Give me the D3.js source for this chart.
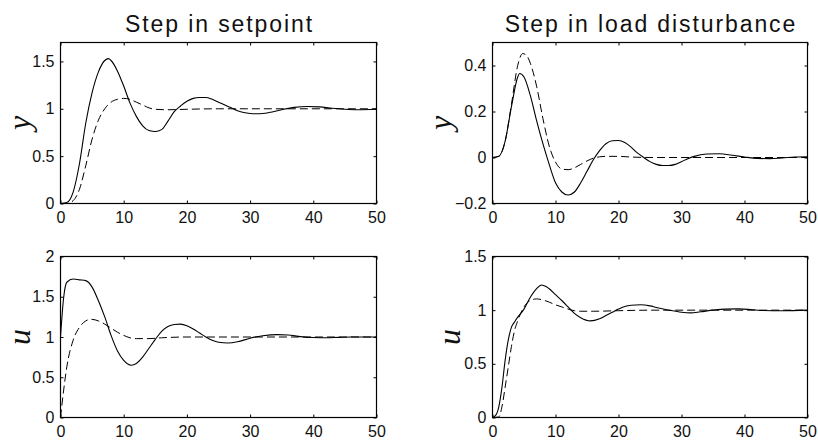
<!DOCTYPE html>
<html>
<head>
<meta charset="utf-8">
<script src="https://cdn.jsdelivr.net/npm/d3@7"></script>
<style>
  body { margin: 0; background: #fff; }
  text { font-family: "Liberation Sans", Arial, sans-serif; fill: #111; }
</style>
</head>
<body>
<div id="chart"></div>
<script>
// time axis ticks
var xTicks = [0, 10, 20, 30, 40, 50];

// step in setpoint, output y
var tSpYSolid = [0,1,2,3,4,5,6,7,7.6,8,9,10,11,12,13,14,15,16,17,18,19,20,21,22,23,24,25,26,27,28,29,30,31,32,33,35,37,39,41,43,45,47,50];
var spYSolid  = [0,0.01,0.12,0.42,0.85,1.17,1.39,1.51,1.53,1.51,1.40,1.24,1.06,0.92,0.82,0.77,0.76,0.78,0.87,0.97,1.03,1.08,1.11,1.12,1.12,1.10,1.07,1.04,1.01,0.98,0.96,0.95,0.947,0.95,0.96,0.99,1.015,1.025,1.02,1.005,0.995,0.99,0.995];
var tSpYDash  = [0,1,2,3,4,5,6,7,8,9,10,11,12,13,14,15,17,20,25,50];
var spYDash   = [0,0,0.03,0.15,0.40,0.68,0.88,1.00,1.07,1.10,1.11,1.10,1.07,1.04,1.01,0.995,0.99,0.995,1,1];

// step in load disturbance, output y
var tLdYSolid = [0,1,2,3,4,4.3,5,6,7,8,9,10,11,12,13,14,15,16,17,18,19,20,21,22,23,24,25,26,27,28,29,30,31,32,34,36,38,40,42,44,46,48,50];
var ldYSolid  = [0,0.005,0.07,0.22,0.35,0.365,0.35,0.27,0.16,0.06,-0.03,-0.11,-0.15,-0.163,-0.15,-0.11,-0.06,-0.01,0.03,0.06,0.073,0.074,0.065,0.045,0.02,0,-0.018,-0.03,-0.035,-0.035,-0.03,-0.018,-0.005,0.005,0.015,0.016,0.01,0.002,-0.004,-0.005,-0.002,0.002,0.003];
var tLdYDash  = [0,1,2,3,4,4.8,5.5,6,7,8,9,10,11,12,13,14,15,16,17,18,20,22,25,50];
var ldYDash   = [0,0.005,0.07,0.23,0.40,0.452,0.44,0.41,0.31,0.17,0.05,-0.02,-0.05,-0.053,-0.045,-0.03,-0.015,-0.003,0.003,0.005,0.005,0.002,0,0];

// step in setpoint, control u
var tSpUSolid = [0,0.5,1,2,3,4,5,6,7,8,9,10,11.2,12,13,14,15,16,17,18,19,20,21,22,23,24,25,26.5,28,30,32,34.3,36,38,40,42,44,46,50];
var spUSolid  = [1.0,1.49,1.68,1.72,1.71,1.70,1.62,1.45,1.25,1.02,0.83,0.71,0.65,0.67,0.75,0.86,0.97,1.07,1.13,1.155,1.16,1.14,1.10,1.05,1.0,0.96,0.935,0.925,0.94,0.985,1.015,1.03,1.025,1.005,0.993,0.99,0.995,1.0,1.0];
var tSpUDash  = [0,0.5,1,2,3,4,4.8,6,7,8,9,10,11,12,14,16,20,50];
var spUDash   = [0,0.34,0.63,0.96,1.12,1.20,1.22,1.20,1.16,1.11,1.06,1.02,0.99,0.98,0.98,0.99,1.0,1.0];

// step in load disturbance, control u
var tLdUSolid = [0,0.5,1,1.5,2,2.5,3,3.5,4,5,6,7,7.8,8.5,9,10,11,12,13,14,15.5,17,18,19,20,21,22,23.5,25,26,28,30,31.5,33,35,37,39,41,43,46,50];
var ldUSolid  = [0,0.02,0.10,0.28,0.53,0.72,0.84,0.89,0.935,1.01,1.12,1.20,1.235,1.22,1.20,1.145,1.09,1.03,0.97,0.93,0.90,0.92,0.95,0.98,1.01,1.035,1.046,1.05,1.04,1.025,1.0,0.98,0.975,0.985,1.0,1.01,1.012,1.006,0.997,0.995,1.0];
var tLdUDash  = [0,1,1.5,2,2.5,3,3.5,4,5,6,7,8,9,10,11,12,13,14,16,20,25,50];
var ldUDash   = [0,0.005,0.10,0.28,0.47,0.66,0.81,0.90,1.03,1.09,1.105,1.095,1.075,1.05,1.03,1.01,0.995,0.99,0.99,0.995,1.0,1.0];

// y ticks and labels
var spYTicks = [0, 0.5, 1, 1.5],      spYLabels = ["0", "0.5", "1", "1.5"];
var ldYTicks = [-0.2, 0, 0.2, 0.4],   ldYLabels = ["\u22120.2", "0", "0.2", "0.4"];
var spUTicks = [0, 0.5, 1, 1.5, 2],   spULabels = ["0", "0.5", "1", "1.5", "2"];
var ldUTicks = [0, 0.5, 1, 1.5],      ldULabels = ["0", "0.5", "1", "1.5"];

var titles = ["Step in setpoint", "Step in load disturbance"];

var width = 818, height = 441;

var svg = d3.select("#chart")
    .append("svg")
    .attr("width", width)
    .attr("height", height);

var panels = [
  { box: [60, 376, 42, 203],  ydom: [0, 1.7],    ticks: spYTicks, labels: spYLabels, lab: "y",
    solid: [tSpYSolid, spYSolid], dash: [tSpYDash, spYDash], title: titles[0] },
  { box: [492, 807, 42, 203], ydom: [-0.2, 0.5], ticks: ldYTicks, labels: ldYLabels, lab: "y",
    solid: [tLdYSolid, ldYSolid], dash: [tLdYDash, ldYDash], title: titles[1] },
  { box: [60, 376, 256, 417], ydom: [0, 2],      ticks: spUTicks, labels: spULabels, lab: "u",
    solid: [tSpUSolid, spUSolid], dash: [tSpUDash, spUDash] },
  { box: [492, 807, 256, 417], ydom: [0, 1.5],   ticks: ldUTicks, labels: ldULabels, lab: "u",
    solid: [tLdUSolid, ldUSolid], dash: [tLdUDash, ldUDash] }
];

panels.forEach(function(p) {
  var x = d3.scaleLinear().domain([0, 50]).range([p.box[0] + 0.5, p.box[1] + 0.5]);
  var y = d3.scaleLinear().domain(p.ydom).range([p.box[3] + 0.5, p.box[2] + 0.5]);
  var g = svg.append("g");

  // curves first, box on top
  var line = d3.line()
      .x(function(d) { return x(d[0]); })
      .y(function(d) { return y(d[1]); })
      .curve(d3.curveMonotoneX);

  var clipId = "clip" + p.box[0] + "_" + p.box[2];
  g.append("clipPath").attr("id", clipId)
    .append("rect")
    .attr("x", x(0)).attr("y", y(p.ydom[1]))
    .attr("width", x(50) - x(0)).attr("height", y(p.ydom[0]) - y(p.ydom[1]));

  g.append("path")
    .datum(d3.zip(p.dash[0], p.dash[1]))
    .attr("clip-path", "url(#" + clipId + ")")
    .attr("fill", "none")
    .attr("stroke", "#000")
    .attr("stroke-width", 1)
    .attr("stroke-dasharray", "8,4")
    .attr("d", line);

  g.append("path")
    .datum(d3.zip(p.solid[0], p.solid[1]))
    .attr("clip-path", "url(#" + clipId + ")")
    .attr("fill", "none")
    .attr("stroke", "#000")
    .attr("stroke-width", 1.1)
    .attr("d", line);

  // axes, MATLAB style inward ticks on all sides
  g.append("g").attr("transform", "translate(0," + y(p.ydom[0]) + ")")
      .call(d3.axisBottom(x).tickValues(xTicks).tickSize(-3).tickPadding(8).tickFormat(d3.format("d")));
  g.append("g").attr("transform", "translate(0," + y(p.ydom[1]) + ")")
      .call(d3.axisTop(x).tickValues(xTicks).tickSize(-3).tickFormat(""));
  var yl = g.append("g").attr("transform", "translate(" + x(0) + ",0)")
      .call(d3.axisLeft(y).tickValues(p.ticks).tickSize(-3).tickPadding(6)
        .tickFormat(function(d, i) { return p.labels[i]; }));
  g.append("g").attr("transform", "translate(" + x(50) + ",0)")
      .call(d3.axisRight(y).tickValues(p.ticks).tickSize(-3).tickFormat(""));

  g.selectAll(".domain").remove();
  g.selectAll(".tick line").attr("stroke", "#000");
  g.selectAll(".tick text")
    .attr("font-family", "Liberation Sans, Arial, sans-serif")
    .attr("font-size", 16)
    .attr("fill", "#111");

  g.append("rect")
    .attr("x", x(0)).attr("y", y(p.ydom[1]))
    .attr("width", x(50) - x(0)).attr("height", y(p.ydom[0]) - y(p.ydom[1]))
    .attr("fill", "none")
    .attr("stroke", "#000")
    .attr("stroke-width", 1.2);

  // y label sits just left of the tick labels
  var bb = yl.node().getBBox();
  var lx = Math.max(x(0) + bb.x - 4, 29.5);
  var cy = (y(p.ydom[0]) + y(p.ydom[1])) / 2;
  g.append("text")
    .attr("transform", "translate(" + lx + "," + cy + ") rotate(-90)")
    .attr("text-anchor", "middle")
    .style("font-family", "'Liberation Serif', 'DejaVu Serif', serif")
    .style("font-style", "italic")
    .attr("font-size", 32)
    .text(p.lab);

  if (p.title) {
    g.append("text")
      .attr("x", (x(0) + x(50)) / 2 + 1)
      .attr("y", 32)
      .attr("text-anchor", "middle")
      .attr("font-size", 23)
      .style("letter-spacing", "1.9px")
      .text(p.title);
  }
});
</script>
</body>
</html>
